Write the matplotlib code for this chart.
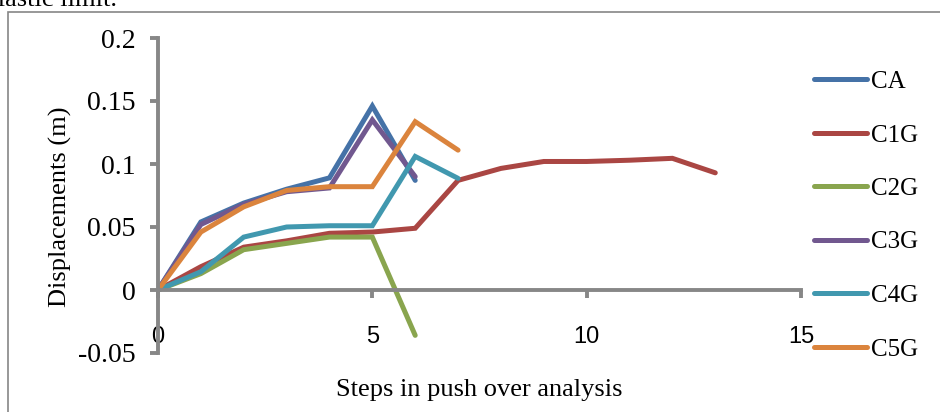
import matplotlib
matplotlib.use('Agg')
from matplotlib import pyplot as plt
from matplotlib.patches import Rectangle

steps_ca = [0, 1, 2, 3, 4, 5, 6]
ca = [0, 0.054, 0.069, 0.080, 0.089, 0.146, 0.087]

steps_c1g = [0, 1, 2, 3, 4, 5, 6, 7, 8, 9, 10, 11, 12, 13]
c1g = [0, 0.0185, 0.034, 0.039, 0.045, 0.046, 0.049, 0.087, 0.0965, 0.102, 0.102, 0.103, 0.1045, 0.093]

steps_c2g = [0, 1, 2, 3, 4, 5, 6]
c2g = [0, 0.013, 0.032, 0.037, 0.042, 0.042, -0.036]

steps_c3g = [0, 1, 2, 3, 4, 5, 6]
c3g = [0, 0.052, 0.068, 0.078, 0.081, 0.135, 0.090]

steps_c4g = [0, 1, 2, 3, 4, 5, 6, 7]
c4g = [0, 0.0145, 0.042, 0.050, 0.051, 0.051, 0.106, 0.0886]

steps_c5g = [0, 1, 2, 3, 4, 5, 6, 7]
c5g = [0, 0.046, 0.066, 0.079, 0.082, 0.082, 0.1336, 0.111]

names = ['CA', 'C1G', 'C2G', 'C3G', 'C4G', 'C5G']
colors = ['#4572A7', '#AA4643', '#89A54E', '#71588F', '#4198AF', '#DB843D']

W, H = 940, 412
fig = plt.figure(figsize=(W / 100, H / 100), dpi=100)

# outer frame of the embedded chart (cut off on right and bottom)
fig.patches.append(Rectangle((8 / W, -0.1), 1.2, 1 - 12 / H + 0.1, transform=fig.transFigure,
                             fill=False, edgecolor='#868686', linewidth=1.2))
fig.text(-14 / W, 1 - 6 / H, 'elastic limit.', family='Liberation Serif', fontsize=19,
         va='baseline', ha='left')

ax = fig.add_axes([158 / W, 59 / H, (801 - 158) / W, (353 - 38) / H])
ax.set_facecolor('none')

# x axis crosses at y = 0 (set before tick styling, it resets the ticks)
for side in ['top', 'right']:
    ax.spines[side].set_visible(False)
ax.spines['bottom'].set_position(('data', 0))
for side in ['left', 'bottom']:
    ax.spines[side].set_color('#878787')
    ax.spines[side].set_linewidth(2.8)

all_steps = [steps_ca, steps_c1g, steps_c2g, steps_c3g, steps_c4g, steps_c5g]
all_vals = [ca, c1g, c2g, c3g, c4g, c5g]
for s, v, n, c in zip(all_steps, all_vals, names, colors):
    ax.plot(s, v, color=c, linewidth=3.6, label=n, solid_capstyle='round', solid_joinstyle='miter')

ax.set_xlim(0, 15)
ax.set_ylim(-0.05, 0.2)
ax.set_xticks([0, 5, 10, 15])
ax.set_yticks([-0.05, 0, 0.05, 0.1, 0.15, 0.2])
ax.set_yticklabels(['-0.05', '0', '0.05', '0.1', '0.15', '0.2'])
ax.set_xticklabels(['0', '5', '10', '15'])
ax.tick_params(axis='both', color='#878787', width=2.8, length=6)
ax.tick_params(axis='x', pad=20, labelsize=17, labelfontfamily='Liberation Sans')
ax.tick_params(axis='y', pad=10, labelsize=20, labelfontfamily='Liberation Serif')

ax.set_xlabel('Steps in push over analysis', family='Liberation Serif', fontsize=19)
ax.set_ylabel('Displacements (m)', family='Liberation Serif', fontsize=19)
ax.xaxis.set_label_coords(0.5, -0.083)
ax.yaxis.set_label_coords(-0.134, 0.463)

fig.legend(loc='upper left', bbox_to_anchor=(791 / W, 1 - 48 / H), frameon=False,
           prop={'family': 'Liberation Serif', 'size': 18}, handlelength=2.15,
           handletextpad=0.15, labelspacing=1.24)

fig.savefig('out.png', dpi=100)
